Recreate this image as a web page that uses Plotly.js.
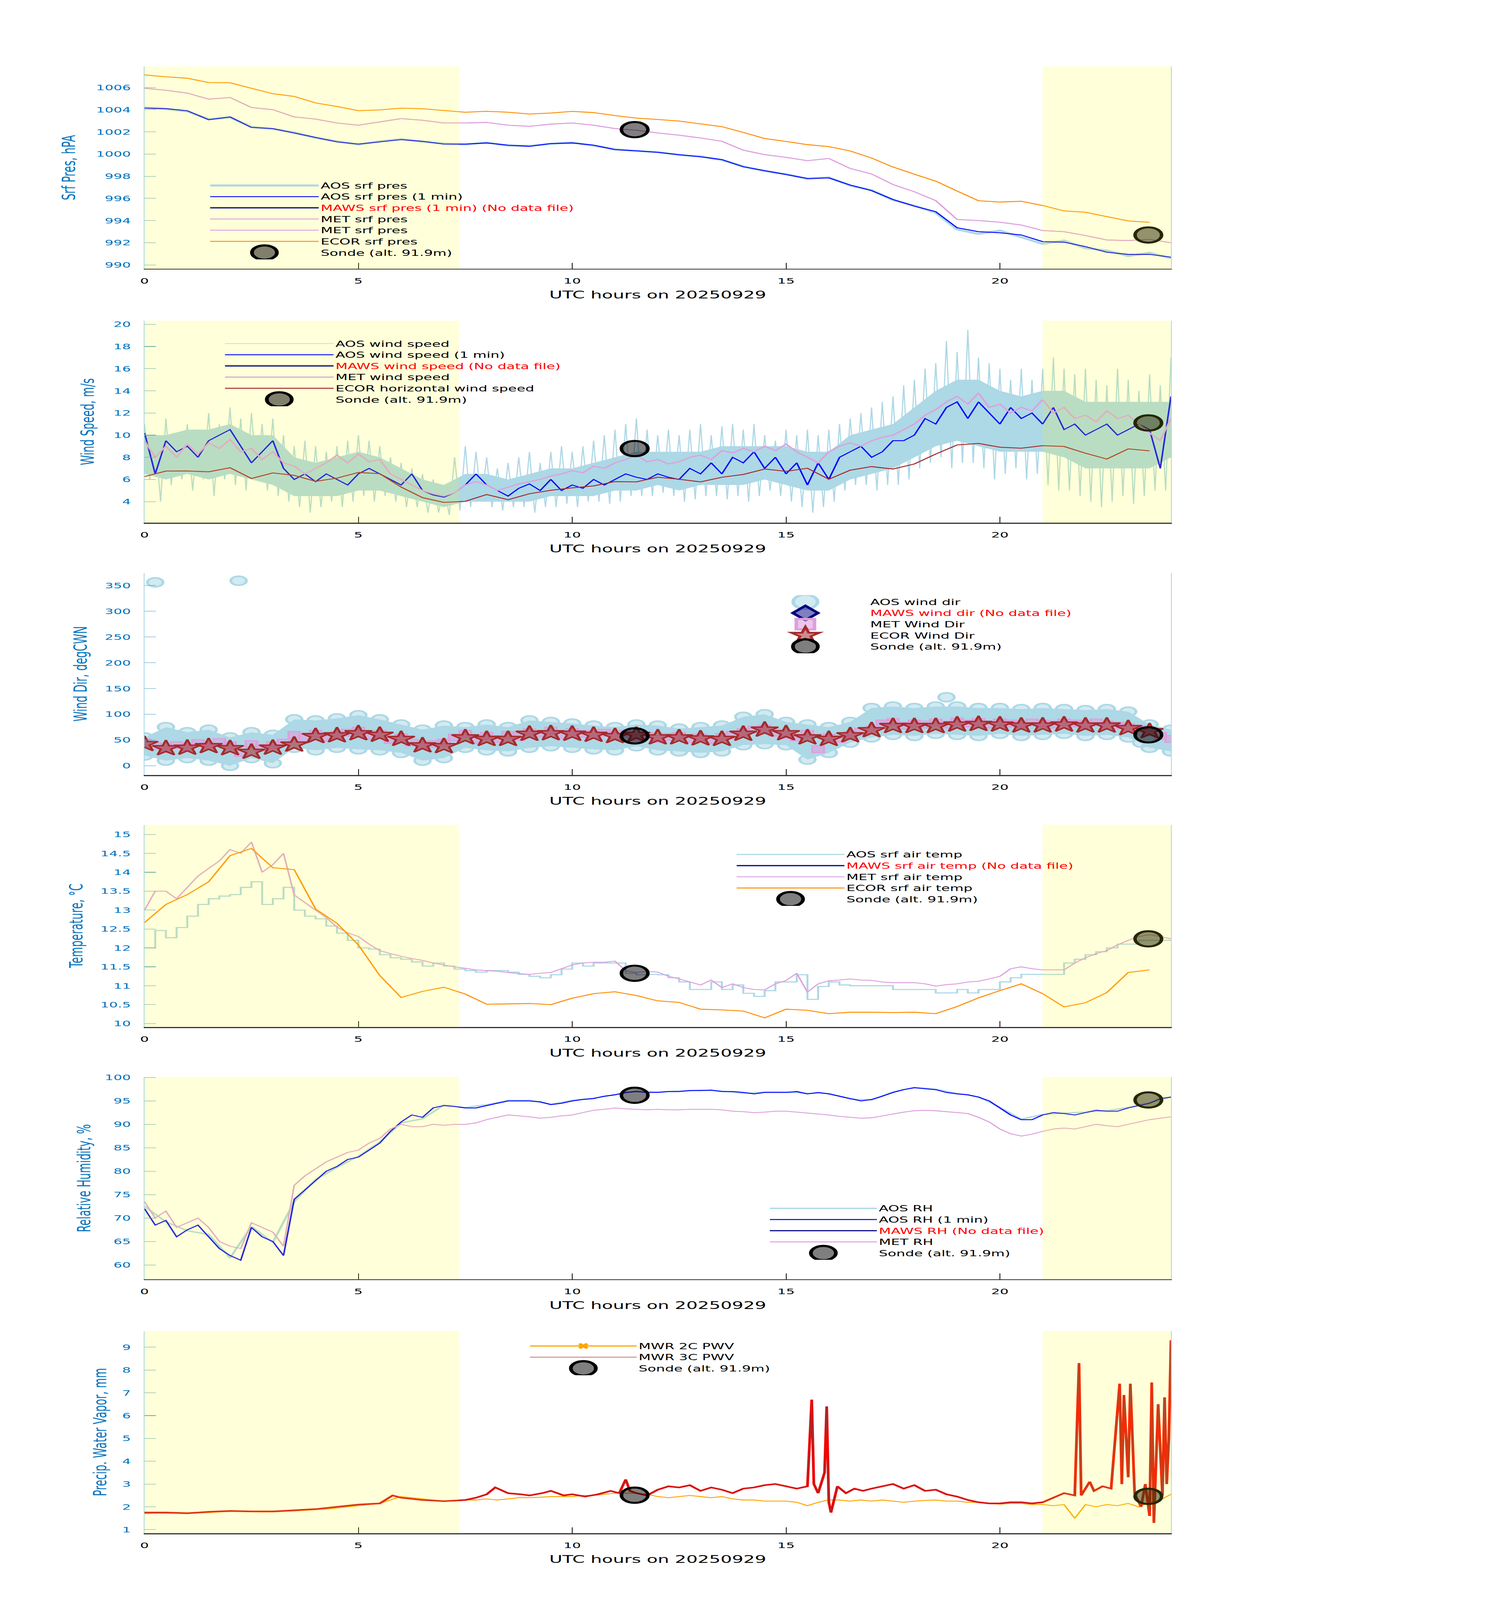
<!DOCTYPE html>
<html><head><meta charset="utf-8">
<script src="https://cdn.plot.ly/plotly-3.0.1.min.js"></script>
<style>html,body{margin:0;padding:0;background:#fff;overflow:hidden;}#chart{width:3825px;height:7125px;transform-origin:0 0;}</style>
</head><body><div id="chart"></div>
<script>
// ---------------- DATA ----------------
const xTicks = [0, 5, 10, 15, 20];
const xTitle = 'UTC hours on 20250929';
const sondeHours = [11.46, 23.47];
const dayBand = [0, 7.35];
const nightBand = [21, 24];

// Surface pressure (hPa), every 0.5 h from 0 to 24
const aosPres = [1004.2,1004.05,1003.85,1003.15,1003.3,1002.45,1002.25,1001.95,1001.45,1001.15,1000.85,1001.15,1001.35,1001.1,1000.95,1000.85,1001.05,1000.75,1000.75,1000.9,1001.05,1000.75,1000.45,1000.25,1000.2,999.9,999.8,999.45,998.9,998.45,998.2,997.75,997.9,997.15,996.75,995.85,995.35,994.7,993.2,992.8,993.1,992.5,991.9,992.2,991.5,991.3,990.8,991.1,990.6];
const aosPres1m = [1004.14,1004.1,1003.9,1003.1,1003.35,1002.4,1002.3,1001.9,1001.5,1001.1,1000.9,1001.1,1001.3,1001.15,1000.9,1000.9,1001.0,1000.8,1000.7,1000.95,1001.0,1000.8,1000.4,1000.3,1000.15,999.95,999.75,999.5,998.85,998.5,998.15,997.8,997.85,997.2,996.7,995.9,995.3,994.8,993.35,993.0,992.9,992.7,992.1,992.05,991.65,991.15,990.95,990.95,990.7];
const metPres = [1005.94,1005.75,1005.5,1004.95,1005.1,1004.2,1004.0,1003.35,1003.15,1002.8,1002.6,1002.9,1003.2,1003.05,1002.8,1002.8,1002.85,1002.6,1002.5,1002.7,1002.8,1002.6,1002.3,1002.15,1001.9,1001.7,1001.45,1001.15,1000.35,999.95,999.7,999.4,999.6,998.7,998.2,997.25,996.6,995.8,994.1,994.0,993.85,993.6,993.1,993.0,992.65,992.25,992.2,992.3,992.0];
// ECOR, every 0.5 h from 0 to 23.5
const ecorPres = [1007.14,1006.97,1006.84,1006.45,1006.43,1005.94,1005.44,1005.2,1004.61,1004.29,1003.91,1003.98,1004.14,1004.09,1003.92,1003.77,1003.86,1003.77,1003.61,1003.7,1003.85,1003.74,1003.47,1003.24,1003.12,1002.98,1002.72,1002.47,1001.95,1001.4,1001.14,1000.85,1000.67,1000.28,999.64,998.83,998.18,997.56,996.66,995.79,995.67,995.74,995.36,994.87,994.75,994.36,993.97,993.84];
const sondePres = [1002.2, 992.7];

// Wind speed (m/s): AOS spikes every 0.25 h, dense core every 0.5 h
const aosWsHi = [11,10,11.5,10, 11,10.5,12,11, 12.5,11.5,12,11, 11.5,10,9,9.5, 9,8.5,9,9.5, 10,9.5,9,8, 7.5,7,6.5,6, 5.5,8,9,8.5, 8,7,7.5,8, 8.5,7.5,8.5,9, 8.5,9,9.5,10, 10.5,11,11.5,10.5, 10,10.5,10,10.5, 11,10,10.8,11, 10.5,11,10,9.5, 10.5,10,10.5,10, 10.5,11,11.5,12, 12.5,13,13.5,14.5, 15,16,16.5,18.5, 17.5,19.5,17,16.5, 16,15,16,15, 16,17,16,15.5, 16,15,14.5,16, 15,14,15.5,14.5, 17];
const aosWsLo = [6,4,5.5,6, 5,6,4.5,6, 5.5,5,6,5, 4.5,4,3.5,3, 3.5,4,3.5,4, 4.5,4,4.5,4, 3.5,3.5,3,3, 2.8,3.2,3.5,4, 3.5,3.2,3.5,3.5, 3,3.5,3.5,3.8, 3.5,4,4,3.8, 4,4.5,4.5,4.5, 4.8,4.5,4,4.2, 4.5,4.5,4.2,4.5, 4,4.5,5,4.5, 4,3.5,3,3.5, 4,5,5.5,5.5, 5,5.5,5.5,6, 7,7.5,8,7, 7.5,7.5,7,6, 6.5,7,6,6.5, 5.5,5,5,4.5, 4,3.5,4,4.5, 3.8,4.5,5,5, 5];
const aosWsCoreLo = [6.5,6,6.5,6,6.5,6,5.5,4.5,4.5,4.5,5,5,4.5,4,3.5,4,4,4,4,4.5,4.5,4.5,5,5,5.5,5,5.5,5.5,5.5,6,5.5,5,5,6,6.5,7,8,9,9.5,9,8.5,8.5,8.5,8,7,7,7,7,8];
const aosWsCoreHi = [10,10,10.5,10.5,11,10,10,8,7.5,8,8.5,8,7,6,5.5,6.5,6.5,6,6.5,7,7,7.5,8,8.5,8.5,8.5,8.5,9,9,9,9,8.5,8.5,10,10.5,11,12.5,14,15,15,14,13.5,14,14,13,13,13,13,13];
const aosWs1m = [10.2,6.5,9.5,8.5, 9.0,8.0,9.5,10.0, 10.5,9.0,7.5,8.5, 9.5,7.0,6.0,6.5, 5.8,6.5,6.0,5.5, 6.5,7.0,6.5,6.0, 5.5,6.5,5.0,4.6, 4.4,4.8,5.5,6.5, 5.5,5.0,4.5,5.2, 5.6,5.0,6.0,5.0, 5.5,5.2,6.0,5.5, 6.0,6.5,6.2,6.0, 6.5,6.2,6.0,7.0, 6.5,7.5,6.5,8.0, 7.5,8.5,7.0,8.0, 6.5,7.5,5.5,7.5, 6.0,8.0,8.5,9.0, 8.0,8.5,9.5,9.5, 10.0,11.5,11.0,12.5, 13.0,11.5,13.0,12.0, 11.0,12.5,11.5,12.0, 11.0,12.5,10.5,11.0, 10.0,10.5,11.0,10.0, 10.5,11.0,10.5,7.0, 13.5];
const metWs = [9.5,8.0,9.0,8.0, 9.2,8.3,9.3,8.8, 9.6,8.5,8.8,7.8, 8.5,7.5,7.2,6.5, 7.0,7.5,8.2,7.5, 8.3,7.6,7.8,6.5, 6.0,5.5,5.0,4.7, 4.5,4.8,5.5,5.8, 5.5,5.0,5.3,5.6, 5.8,6.0,6.3,6.5, 6.8,6.6,7.2,7.0, 7.5,7.8,8.2,7.6, 7.8,7.4,7.6,8.0, 8.2,7.8,8.6,8.4, 8.8,8.5,9.0,8.6, 9.2,8.5,8.0,7.5, 8.5,9.0,9.3,9.0, 9.5,9.8,10.0,10.5, 11.0,11.8,12.3,13.0, 13.5,12.8,13.8,12.5, 12.8,12.0,12.5,12.2, 13.2,12.0,12.5,11.5, 11.8,11.2,12.2,11.5, 11.8,11.0,10.2,9.5, 11.5];
// ECOR, every 0.5 h from 0 to 23.5
const ecorWs = [6.26,6.76,6.77,6.69,7.06,6.09,6.59,6.37,5.83,6.12,6.63,6.52,5.31,4.36,3.93,4.03,4.64,4.17,4.71,5.02,5.24,5.42,5.81,5.78,6.2,6.02,5.78,6.2,6.45,6.94,6.73,7.01,6.02,6.84,7.16,6.94,7.4,8.29,9.11,9.25,8.91,8.82,9.05,8.98,8.37,7.84,8.76,8.58];
const sondeWs = [8.79, 11.1];

// Wind direction (deg), AOS envelope every 0.5 h
const aosDirLo = [20,10,15,10,0,15,5,35,30,35,32,30,25,10,15,35,30,28,35,38,35,32,30,38,30,28,25,28,40,42,40,12,25,45,55,60,58,62,60,58,62,58,60,62,58,60,55,35,28];
const aosDirHi = [55,75,65,70,55,65,60,90,88,92,98,90,80,70,78,75,80,75,88,85,82,78,75,80,78,72,75,78,95,100,85,80,75,85,112,115,112,115,115,112,112,110,112,110,108,110,105,80,70];
const aosDirOutHours = [0.25, 2.2, 18.75, 23.3];
const aosDirOutVals = [356, 359, 133, 45];
const metDir = [45,38,32,40, 36,44,38,46, 40,25,42,35, 40,45,60,55, 62,55,60,64, 68,58,62,50, 55,45,40,42, 45,55,62,50, 58,52,60,56, 65,62,68,60, 65,62,60,64, 58,62,55,58, 52,56,58,52, 55,50,56,60, 65,70,72,64, 60,55,62,32, 55,52,60,66, 70,82,85,78, 82,80,84,80, 86,82,85,80, 84,82,80,84, 82,80,84,82, 80,84,80,78, 75,72,65,58, 52];
const ecorDir = [42,34,35,38,34,27,35,41,57.5,59,63,60,52,39.5,38,55,52,52,62,63,62,60,57.5,60,55,55,53,52,62,70,63,55,52,59,69,77,77,77,80,81,80,78,78,80,78,78,73,67];
const sondeDir = [58, 60];

// Temperature (degC), every 0.25 h
const aosTemp = [12.0,12.46,12.27,12.54, 12.84,13.15,13.3,13.37, 13.41,13.6,13.75,13.15, 13.3,13.6,13.0,12.84, 12.77,12.58,12.39,12.2, 12.0,11.97,11.82,11.74, 11.7,11.63,11.52,11.6, 11.52,11.44,11.4,11.36, 11.4,11.4,11.36,11.3, 11.25,11.21,11.29,11.44, 11.6,11.52,11.6,11.6, 11.6,11.33,11.29,11.3, 11.29,11.21,11.1,10.9, 10.9,11.1,10.9,11.02, 10.8,10.72,10.87,11.1, 11.1,11.29,10.64,10.98, 11.1,11.02,11.0,11.0, 11.0,11.0,10.9,10.9, 10.9,10.9,10.81,10.81, 10.9,10.81,10.9,10.9, 11.1,11.21,11.3,11.3, 11.3,11.3,11.6,11.7, 11.82,11.9,12.0,12.1, 12.1,12.2,12.2,12.2, 12.2];
const metTemp = [13.0,13.5,13.5,13.3, 13.6,13.9,14.1,14.3, 14.6,14.5,14.8,14.0, 14.2,14.5,13.4,13.2, 13.0,12.8,12.55,12.4, 12.3,12.1,11.93,11.85, 11.78,11.72,11.67,11.6, 11.55,11.5,11.46,11.42, 11.4,11.38,11.35,11.32, 11.3,11.33,11.35,11.45, 11.55,11.6,11.62,11.62, 11.65,11.4,11.35,11.38, 11.36,11.25,11.18,11.1, 11.02,11.15,10.95,11.05, 10.95,10.9,10.89,11.05, 11.14,11.33,10.83,11.05, 11.13,11.15,11.18,11.15, 11.14,11.1,11.08,11.08, 11.08,11.05,10.99,11.03, 11.05,11.1,11.12,11.18, 11.25,11.45,11.5,11.45, 11.42,11.42,11.42,11.6, 11.74,11.85,11.93,12.08, 12.2,12.3,12.35,12.3, 12.24];
// ECOR, every 0.5 h from 0 to 23.5
const ecorTemp = [12.67,13.15,13.41,13.75,14.44,14.63,14.12,14.07,13.03,12.65,12.08,11.27,10.69,10.85,10.96,10.78,10.51,10.52,10.53,10.5,10.67,10.79,10.84,10.74,10.6,10.56,10.38,10.36,10.33,10.15,10.38,10.35,10.26,10.3,10.3,10.29,10.3,10.26,10.45,10.68,10.87,11.05,10.79,10.44,10.55,10.82,11.35,11.42];
const sondeTemp = [11.33, 12.24];

// Relative humidity (%)
const aosRh = [72.5,69.2,67.3,66.5,61.5,68.2,64.8,73.5,78.2,80.8,83.2,86.2,90.3,91.2,94.1,93.6,94.2,95.1,95.1,94.3,95.1,95.6,96.3,97.1,96.9,97.1,97.3,97.1,96.6,96.9,96.9,96.6,96.6,95.4,95.2,96.9,97.9,97.5,96.6,95.9,93.6,91.1,92.1,92.4,92.6,92.9,93.6,94.6,95.9];
const aosRh1m = [72,68.5,69.5,66, 67.5,68.5,66,63.5, 62,61,68,66, 65,62,74,76, 78,80,81,82.5, 83,84.5,86,88.5, 90.5,92,91.5,93.5, 94,93.8,93.5,93.5, 94,94.5,95,95, 95,94.8,94.2,94.5, 95,95.3,95.5,96, 96.3,96.8,97,96.8, 96.8,97,97,97.2, 97.2,97.3,97,97, 96.8,96.5,96.8,96.8, 96.8,97,96.5,96.8, 96.5,96,95.5,95, 95.3,96,96.8,97.4, 97.8,97.6,97.4,96.8, 96.5,96.3,95.8,95, 93.5,92,91,91, 92,92.5,92.3,92, 92.5,93,92.8,92.8, 93.5,94,94.5,95.5, 95.8];
const metRh = [73.5,70,71.5,68, 69,70,68,65, 64,63.5,69,68, 67,64,77,79, 80.5,82,83,84, 84.5,86,87,89, 90,89.5,89.5,90, 89.8,90,90,90.3, 91,91.5,92,91.8, 91.6,91.3,91.5,91.8, 92,92.5,93,93.2, 93.5,93.3,93.2,93.1, 93.2,93.1,93.1,93.2, 93.2,93.2,93.1,92.8, 92.7,92.5,92.6,92.8, 92.8,92.6,92.4,92.2, 92,91.7,91.5,91.3, 91.4,91.8,92.2,92.6, 92.9,93,92.9,92.7, 92.5,92.3,91.5,90.5, 89,88,87.5,87.9, 88.5,89,89.2,89, 89.5,90,89.7,89.5, 90,90.5,91,91.3, 91.6];
const sondeRh = [96.2, 95.2];

// Precipitable water vapour (mm)
const pwv2c = [1.7,1.72,1.72,1.73, 1.72,1.73,1.75,1.78, 1.8,1.8,1.8,1.78, 1.78,1.8,1.82,1.85, 1.88,1.9,1.95,2.0, 2.05,2.1,2.15,2.3, 2.45,2.4,2.35,2.3, 2.25,2.25,2.3,2.3, 2.35,2.3,2.35,2.4, 2.4,2.42,2.45,2.45, 2.45,2.5,2.5,2.55, 2.6,2.6,2.6,2.55, 2.45,2.4,2.45,2.5, 2.45,2.4,2.45,2.35, 2.3,2.3,2.25,2.25, 2.25,2.2,2.05,2.2, 2.3,2.3,2.25,2.3, 2.25,2.3,2.25,2.2, 2.25,2.28,2.3,2.25, 2.25,2.2,2.2,2.15, 2.12,2.15,2.15,2.1, 2.1,2.05,2.1,1.5, 2.1,2.0,2.1,2.05, 2.15,2.0,2.2,2.3, 2.55];
const pwv3cHours = [0,0.5,1,1.5,2,2.5,3,3.5,4,4.5,5,5.5,5.8,6,6.5,7,7.5,7.75,8,8.2,8.5,8.8,9,9.3,9.5,9.8,10,10.3,10.6,10.9,11.1,11.25,11.35,11.5,11.75,12,12.25,12.5,12.75,13,13.25,13.5,13.75,14,14.25,14.5,14.75,15,15.25,15.5,15.6,15.65,15.75,15.9,15.95,16.0,16.05,16.2,16.4,16.6,16.8,17,17.25,17.5,17.75,18,18.25,18.5,18.75,19,19.25,19.5,19.75,20,20.25,20.5,20.75,21,21.25,21.5,21.75,21.85,21.9,22.0,22.1,22.2,22.4,22.6,22.8,22.85,22.9,23.0,23.05,23.15,23.3,23.4,23.5,23.55,23.6,23.7,23.8,23.85,23.9,23.95,24];
const pwv3cVals  = [1.75,1.75,1.72,1.78,1.82,1.8,1.8,1.85,1.9,2.0,2.1,2.15,2.5,2.4,2.3,2.25,2.3,2.4,2.55,2.85,2.6,2.55,2.5,2.6,2.7,2.5,2.55,2.45,2.55,2.7,2.6,3.2,2.7,2.6,2.5,2.75,2.9,2.85,2.95,2.7,2.85,2.75,2.6,2.8,2.85,2.95,3.0,2.9,2.8,2.9,6.7,3.0,2.6,3.5,6.4,2.2,1.75,2.9,2.6,2.8,2.7,2.8,2.9,3.0,2.8,2.95,2.7,2.75,2.55,2.45,2.3,2.2,2.15,2.15,2.2,2.2,2.15,2.2,2.4,2.6,2.5,8.3,2.5,2.8,3.1,2.7,2.9,2.8,7.4,3.0,6.9,3.3,7.4,2.6,2.0,3.0,1.6,7.45,1.3,6.5,2.5,6.8,3.0,5.0,9.3];
const sondePwv = [2.51, 2.46];

// regular time grids
const h05 = Array.from({length: 49}, (_, i) => i * 0.5);
const h05e = Array.from({length: 48}, (_, i) => i * 0.5);
const h025 = Array.from({length: 97}, (_, i) => i * 0.25);

// ---------------- STYLE ----------------
const F = 'DejaVu Sans, sans-serif';
const C = {aos: '#ADD8E6', aos1m: '#0000FF', maws: '#000080', met: '#DDA0DD', ecor: '#FF8C00', brown: '#A52A2A', mwr2: '#FFA500', red: '#FF0000'};
const red = s => '<span style="color:#FF0000">' + s + '</span>';
const sondeMarker = {size: 68, color: 'rgba(0,0,0,0.5)', line: {color: '#000', width: 9}};

const traces = [];
function add(t) { traces.push(t); }
function lineT(ax, lg, name, x, y, color, width, extra) {
  add(Object.assign({type: 'scatter', mode: 'lines', x: x, y: y, name: name, xaxis: 'x' + ax, yaxis: 'y' + ax, legend: lg, line: {color: color, width: width}, hoverinfo: 'skip'}, extra || {}));
}
function sonde(ax, lg, vals) {
  add({type: 'scatter', mode: 'markers', x: sondeHours, y: vals, name: 'Sonde (alt. 91.9m)', xaxis: 'x' + ax, yaxis: 'y' + ax, legend: lg, marker: sondeMarker});
}

// Panel 1
lineT('', 'legend', 'AOS srf pres', h05, aosPres, C.aos, 9);
lineT('', 'legend', 'AOS srf pres (1 min)', h05, aosPres1m, C.aos1m, 4);
lineT('', 'legend', red('MAWS srf pres (1 min) (No data file)'), [null], [null], C.maws, 5);
lineT('', 'legend', 'MET srf pres', h05, metPres, C.met, 4);
lineT('', 'legend', 'MET srf pres', h05, metPres, C.met, 4);
lineT('', 'legend', 'ECOR srf pres', h05e, ecorPres, C.ecor, 4);
sonde('', 'legend', sondePres);

// Panel 2
add({type: 'scatter', mode: 'lines', x: h05, y: aosWsCoreLo, xaxis: 'x2', yaxis: 'y2', showlegend: false, line: {width: 0, color: C.aos}, hoverinfo: 'skip'});
add({type: 'scatter', mode: 'lines', x: h05, y: aosWsCoreHi, xaxis: 'x2', yaxis: 'y2', showlegend: false, fill: 'tonexty', fillcolor: C.aos, line: {width: 0, color: C.aos}, hoverinfo: 'skip'});
const zzX = [], zzY = [];
aosWsHi.forEach((v, i) => { zzX.push(h025[i]); zzY.push(v); zzX.push(h025[i] + 0.125); zzY.push(aosWsLo[i]); });
lineT('2', 'legend2', 'AOS wind speed', zzX, zzY, C.aos, 3);
lineT('2', 'legend2', 'AOS wind speed (1 min)', h025, aosWs1m, C.aos1m, 4);
lineT('2', 'legend2', red('MAWS wind speed (No data file)'), [null], [null], C.maws, 5);
lineT('2', 'legend2', 'MET wind speed', h025, metWs, C.met, 5);
lineT('2', 'legend2', 'ECOR horizontal wind speed', h05e, ecorWs, C.brown, 4);
sonde('2', 'legend2', sondeWs);

// Panel 3
add({type: 'scatter', mode: 'lines', x: h05, y: aosDirLo, xaxis: 'x3', yaxis: 'y3', showlegend: false, line: {width: 0, color: C.aos}, hoverinfo: 'skip'});
add({type: 'scatter', mode: 'lines', x: h05, y: aosDirHi, xaxis: 'x3', yaxis: 'y3', showlegend: false, fill: 'tonexty', fillcolor: C.aos, line: {width: 0, color: C.aos}, hoverinfo: 'skip'});
add({type: 'scatter', mode: 'markers', name: 'AOS wind dir', legend: 'legend3', xaxis: 'x3', yaxis: 'y3',
  x: h05.concat(h05, aosDirOutHours), y: aosDirLo.concat(aosDirHi, aosDirOutVals),
  marker: {symbol: 'circle', size: 40, color: 'rgba(173,216,230,0.55)', line: {color: C.aos, width: 7}}});
add({type: 'scatter', mode: 'markers', name: red('MAWS wind dir (No data file)'), legend: 'legend3', xaxis: 'x3', yaxis: 'y3', x: [null], y: [null],
  marker: {symbol: 'diamond', size: 40, color: 'rgba(0,0,128,0.5)', line: {color: C.maws, width: 5}}});
add({type: 'scatter', mode: 'markers', name: 'MET Wind Dir', legend: 'legend3', xaxis: 'x3', yaxis: 'y3', x: h025, y: metDir,
  marker: {symbol: 'square', size: 30, color: 'rgba(221,160,221,0.6)', line: {color: C.met, width: 5}}});
add({type: 'scatter', mode: 'markers', name: 'ECOR Wind Dir', legend: 'legend3', xaxis: 'x3', yaxis: 'y3', x: h05e, y: ecorDir,
  marker: {symbol: 'star', size: 52, color: 'rgba(165,42,42,0.55)', line: {color: C.brown, width: 6}}});
sonde('3', 'legend3', sondeDir);

// Panel 4
lineT('4', 'legend4', 'AOS srf air temp', h025, aosTemp, C.aos, 5, {line: {color: C.aos, width: 5, shape: 'hv'}});
lineT('4', 'legend4', red('MAWS srf air temp (No data file)'), [null], [null], C.maws, 5);
lineT('4', 'legend4', 'MET srf air temp', h025, metTemp, C.met, 4);
lineT('4', 'legend4', 'ECOR srf air temp', h05e, ecorTemp, C.ecor, 4);
sonde('4', 'legend4', sondeTemp);

// Panel 5
lineT('5', 'legend5', 'AOS RH', h05, aosRh, C.aos, 6);
lineT('5', 'legend5', 'AOS RH (1 min)', h025, aosRh1m, C.aos1m, 4);
lineT('5', 'legend5', red('MAWS RH (No data file)'), [null], [null], C.maws, 5);
lineT('5', 'legend5', 'MET RH', h025, metRh, C.met, 4);
sonde('5', 'legend5', sondeRh);

// Panel 6
lineT('6', 'legend6', 'MWR 2C PWV', h025, pwv2c, C.mwr2, 4, {showlegend: false});
add({type: 'scatter', mode: 'lines+markers', name: 'MWR 2C PWV', legend: 'legend6', xaxis: 'x6', yaxis: 'y6', x: [null], y: [null],
  line: {color: C.mwr2, width: 5}, marker: {symbol: 'x', size: 16, color: C.mwr2}});
lineT('6', 'legend6', 'MWR 3C PWV red', pwv3cHours, pwv3cVals, C.red, 7, {showlegend: false});
lineT('6', 'legend6', 'MWR 3C PWV', pwv3cHours, pwv3cVals, C.brown, 2.5);
sonde('6', 'legend6', sondePwv);

// ---------------- LAYOUT ----------------
const W = 3825, H = 7125, L = 370, R = 2998;
const panels = [
  {top: 296, bot: 1197, range: [989.65, 1007.9], dtick: 2, title: 'Srf Pres, hPA', tx: 176, bands: true},
  {top: 1428, bot: 2328, range: [2.09, 20.33], dtick: 2, title: 'Wind Speed, m/s', tx: 224, bands: true},
  {top: 2551, bot: 3452, range: [-18.3, 374.4], dtick: 50, title: 'Wind Dir, degCWN', tx: 207, bands: false},
  {top: 3673, bot: 4574, range: [9.905, 15.255], dtick: 0.5, title: 'Temperature, \u00B0C', tx: 195, bands: true},
  {top: 4796, bot: 5697, range: [56.93, 100.1], dtick: 5, title: 'Relative Humidity, %', tx: 215, bands: true},
  {top: 5928, bot: 6828, range: [0.84, 9.70], dtick: 1, title: 'Precip. Water Vapor, mm', tx: 256, bands: true}
];
const legendPos = [
  {x: 533, top: 796, w: 278},
  {x: 571, top: 1500, w: 278},
  {x: 1896, top: 2650, w: 322},
  {x: 1881, top: 3775, w: 276},
  {x: 1966, top: 5351, w: 274},
  {x: 1352, top: 5964, w: 273}
];
const px2x = p => (p - L) / (R - L);
const px2y = p => 1 - p / H;

const layout = {
  width: W, height: H, margin: {l: L, r: W - R, t: 0, b: 0, pad: 0},
  paper_bgcolor: '#fff', plot_bgcolor: '#fff', showlegend: true,
  font: {family: F, size: 35, color: '#000'},
  shapes: [], annotations: []
};
panels.forEach((p, i) => {
  const s = i === 0 ? '' : String(i + 1);
  layout['xaxis' + s] = {
    domain: [0, 1], anchor: 'y' + s, range: [0, 24], tickmode: 'array', tickvals: xTicks, ticktext: xTicks.map(String),
    ticks: 'inside', ticklen: 27, tickwidth: 2, tickcolor: '#000', showline: true, linecolor: '#333', linewidth: 4,
    showgrid: false, zeroline: false, tickfont: {family: F, size: 35, color: '#000'}, ticklabelstandoff: 20
  };
  layout['yaxis' + s] = {
    domain: [px2y(p.bot), px2y(p.top)], anchor: 'x' + s, range: p.range, dtick: p.dtick, tick0: 0,
    ticks: 'inside', ticklen: 29, tickwidth: 2, tickcolor: '#4f9cc0', showline: true, linecolor: '#a6d6e6', linewidth: 2, mirror: true,
    showgrid: false, zeroline: false, tickfont: {family: F, size: 35, color: '#0072BD'}, ticklabelstandoff: 26
  };
  layout.annotations.push({xref: 'paper', yref: 'paper', x: 0.5, y: px2y(p.bot + 116), xanchor: 'center', yanchor: 'middle', showarrow: false,
    text: xTitle, font: {family: F, size: 46, color: '#000'}});
  layout.annotations.push({xref: 'paper', yref: 'paper', x: px2x(p.tx), y: px2y((p.top + p.bot) / 2), xanchor: 'center', yanchor: 'middle', showarrow: false,
    textangle: -90, text: p.title, font: {family: F, size: 46, color: '#0072BD'}});
  if (p.bands) {
    [dayBand, nightBand].forEach(b => layout.shapes.push({type: 'rect', xref: 'x' + s, yref: 'y' + s + ' domain', x0: b[0], x1: b[1], y0: 0, y1: 1,
      fillcolor: 'rgba(255,255,0,0.15)', line: {width: 0}, layer: 'above'}));
  }
  const lp = legendPos[i];
  layout['legend' + s] = {x: px2x(lp.x), y: px2y(lp.top), xanchor: 'left', yanchor: 'top', xref: 'paper', yref: 'paper', traceorder: 'normal',
    bgcolor: 'rgba(0,0,0,0)', borderwidth: 0, font: {family: F, size: 36, color: '#000'}, itemwidth: lp.w, tracegroupgap: 0};
});

// The window cannot always be as tall as the figure: fit the whole figure into the visible height.
const chartDiv = document.getElementById('chart');
const fitY = Math.min(1, (window.innerHeight || H) / H);
if (fitY < 1) chartDiv.style.transform = 'scale(1,' + fitY + ')';

// Legend symbols: Plotly caps them at 16 px; the reference draws them about four times larger.
const markerCfg = [
  ['AOS wind dir', 3.9, 2.4],
  ['MAWS wind dir', 3.1, 3.0],
  ['MET Wind Dir', 2.9, 3.2],
  ['ECOR Wind Dir', 3.4, 2.2],
  ['Sonde', 4.0, 2.4],
  ['MWR 2C', 1.5, null]
];
function itemName(node) {
  let g = node;
  while (g && g !== chartDiv) {
    if (g.classList && g.classList.contains('traces')) break;
    g = g.parentNode;
  }
  if (!g || g === chartDiv) return null;
  const t = g.querySelector('.legendtext');
  if (t && t.textContent) return t.textContent;
  const d = g.__data__;
  if (d && d[0] && d[0].trace) return String(d[0].trace.name || '').replace(/<[^>]*>/g, '');
  return null;
}
let busy = false;
function enlargeLegendMarkers() {
  if (busy) return;
  busy = true;
  chartDiv.querySelectorAll('path.scatterpts').forEach(pth => {
    const name = itemName(pth);
    if (!name) return;
    const c = markerCfg.find(k => name.indexOf(k[0]) >= 0);
    if (!c) return;
    let base = pth.getAttribute('data-orig');
    const cur = pth.getAttribute('transform') || '';
    if (base === null || cur.indexOf('scale(') < 0) { base = cur; pth.setAttribute('data-orig', base); }
    const want = base + ' scale(' + c[1] + ')';
    if (cur !== want) pth.setAttribute('transform', want);
    if (c[2] != null && pth.style.strokeWidth !== c[2] + 'px') pth.style.strokeWidth = c[2] + 'px';
  });
  busy = false;
}
new MutationObserver(enlargeLegendMarkers).observe(chartDiv, {childList: true, subtree: true, attributes: true, attributeFilter: ['transform', 'style', 'd']});
Plotly.newPlot(chartDiv, traces, layout, {staticPlot: true, displayModeBar: false}).then(gd => {
  enlargeLegendMarkers();
  gd.on('plotly_afterplot', enlargeLegendMarkers);
  requestAnimationFrame(enlargeLegendMarkers);
  setTimeout(enlargeLegendMarkers, 50);
});
</script></body></html>
